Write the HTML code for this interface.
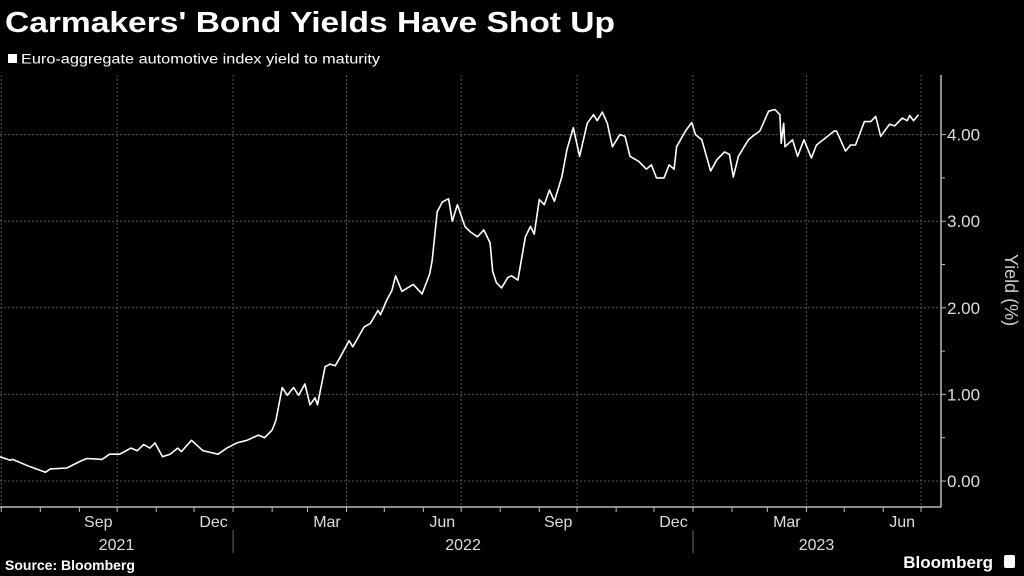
<!DOCTYPE html>
<html><head><meta charset="utf-8"><style>
html,body{margin:0;padding:0;background:#000;}
svg{display:block;font-family:"Liberation Sans",sans-serif;}
</style></head><body>
<svg id="chart" width="1024" height="576" viewBox="0 0 1024 576">
<rect width="1024" height="576" fill="#000"/>
<text x="5" y="32" fill="#fff" font-size="29" font-weight="bold" textLength="610" lengthAdjust="spacingAndGlyphs">Carmakers' Bond Yields Have Shot Up</text>
<rect x="8" y="54" width="9" height="9" fill="#fff"/>
<text x="21" y="63.5" fill="#fff" font-size="13.5" textLength="359" lengthAdjust="spacingAndGlyphs">Euro-aggregate automotive index yield to maturity</text>
<g id="grid"></g>
<g id="axes"></g>
<path id="line" fill="none" stroke="#fff" stroke-width="1.6" stroke-linejoin="round"/>
<text transform="translate(1005,290) rotate(90)" text-anchor="middle" fill="#ccc" font-size="18">Yield (%)</text>
<text x="5" y="570" fill="#fff" font-size="14" font-weight="bold">Source: Bloomberg</text>
<text x="993" y="568" text-anchor="end" fill="#fff" font-size="17" font-weight="bold">Bloomberg</text>
<rect x="1004" y="555" width="11" height="13" rx="2" fill="#fff"/>
</svg>
<script>
const startDate = "2021-06-30";
const days = [0,8,10,23,36,40,53,64,69,81,87,95,104,109,114,119,123,129,135,141,144,152,161,167,173,180,188,196,205,210,216,219,224,228,233,237,242,246,250,252,258,262,266,270,277,280,289,294,300,302,307,311,314,319,328,335,341,343,347,351,356,359,363,369,373,379,384,389,391,394,398,403,406,411,417,421,424,428,432,436,440,446,450,455,460,466,471,474,478,482,486,492,496,500,507,513,517,521,527,531,535,537,544,549,552,557,564,569,575,579,582,586,594,599,603,610,615,619,620,622,623,629,633,638,644,648,655,662,664,671,675,679,686,691,695,699,706,710,716,720,722,725,729];
const yields = [0.28,0.24,0.25,0.17,0.10,0.14,0.15,0.23,0.26,0.25,0.31,0.31,0.38,0.35,0.42,0.38,0.44,0.28,0.31,0.38,0.34,0.47,0.35,0.33,0.31,0.38,0.44,0.47,0.53,0.50,0.59,0.70,1.08,0.99,1.08,0.99,1.12,0.88,0.96,0.88,1.32,1.35,1.33,1.43,1.62,1.55,1.78,1.82,1.97,1.92,2.09,2.20,2.37,2.19,2.27,2.16,2.39,2.55,3.11,3.22,3.26,3.00,3.19,2.94,2.88,2.82,2.90,2.75,2.42,2.29,2.23,2.35,2.37,2.32,2.82,2.94,2.85,3.25,3.19,3.36,3.23,3.52,3.83,4.08,3.75,4.13,4.23,4.16,4.26,4.13,3.86,4.00,3.98,3.75,3.69,3.60,3.65,3.50,3.50,3.65,3.60,3.86,4.04,4.14,4.00,3.94,3.58,3.71,3.80,3.77,3.51,3.75,3.94,4.00,4.04,4.27,4.29,4.23,3.90,4.13,3.86,3.94,3.75,3.94,3.73,3.88,3.96,4.04,4.04,3.81,3.88,3.88,4.15,4.15,4.21,3.98,4.12,4.10,4.19,4.16,4.22,4.16,4.23];
const yTicks = [0,1,2,3,4];
const yTickLabels = ["0.00","1.00","2.00","3.00","4.00"];
const monthLabels = ["Jan","Feb","Mar","Apr","May","Jun","Jul","Aug","Sep","Oct","Nov","Dec"];

const NS="http://www.w3.org/2000/svg";
const PX_PER_DAY=1.26, Y0=481, PX_PER_UNIT=86.6, AXIS_X=941, AXIS_Y=507;
const t0=Date.parse(startDate+"T00:00:00Z");
const xDay=d=>d*PX_PER_DAY;
const xDate=(y,m,d)=>xDay((Date.UTC(y,m,d)-t0)/864e5);
const yv=v=>Y0-v*PX_PER_UNIT;
function mk(tag,attrs,parent){const e=document.createElementNS(NS,tag);for(const k in attrs)e.setAttribute(k,attrs[k]);parent.appendChild(e);return e;}
const grid=document.getElementById('grid'), axes=document.getElementById('axes');

yTicks.forEach((v,i)=>{
  const g=mk('line',{x1:0,x2:AXIS_X,y1:yv(v),y2:yv(v),stroke:'#555','stroke-width':1,'stroke-dasharray':'2,2'},grid);
  
  
  const tk=mk('line',{x1:AXIS_X,x2:AXIS_X+5,y1:yv(v),y2:yv(v),stroke:'#bbb'},axes);
  
  
  const t=mk('text',{x:AXIS_X+6,y:yv(v)+6,fill:'#ddd','font-size':17},axes);
  t.textContent=yTickLabels[i];
  
  
  if(v<4){const mt=mk('line',{x1:AXIS_X,x2:AXIS_X+4,y1:yv(v+0.5),y2:yv(v+0.5),stroke:'#bbb'},axes);
  
  }
});
const ya=mk('line',{x1:AXIS_X,x2:AXIS_X,y1:75,y2:AXIS_Y,stroke:'#bbb','stroke-width':1.5},axes);


const xa=mk('line',{x1:0,x2:AXIS_X,y1:AXIS_Y,y2:AXIS_Y,stroke:'#bbb','stroke-width':1.5},axes);



for(let y=2021;y<=2023;y++)for(let m=0;m<12;m++){
  const x=xDate(y,m,1); if(x<0||x>AXIS_X)continue;
  const tk=mk('line',{x1:x,x2:x,y1:AXIS_Y,y2:AXIS_Y+5,stroke:'#bbb'},axes);
  
  
  if(m%3===0){
    const g=mk('line',{x1:x,x2:x,y1:75,y2:AXIS_Y,stroke:'#555','stroke-dasharray':'2,2'},grid);
    
    
    if(m===0){const s=mk('line',{x1:x,x2:x,y1:530,y2:553,stroke:'#666'},axes);
      
      }
  }
  if(m%3===2){
    const xm=(x+xDate(y,m+1,1))/2;
    const t=mk('text',{x:xm,y:527,fill:'#ddd','font-size':16,'text-anchor':'middle'},axes);
    t.textContent=monthLabels[m];
    
    
  }
}
[[2021,0,xDate(2022,0,1)],[2022,xDate(2022,0,1),xDate(2023,0,1)],[2023,xDate(2023,0,1),940]].forEach(([yr,a,b])=>{
  const t=mk('text',{x:(a+b)/2,y:550,fill:'#ddd','font-size':16,'text-anchor':'middle'},axes);
  t.textContent=String(yr);
  
  
});
document.getElementById('line').setAttribute('d',days.map((d,i)=>(i?'L':'M')+xDay(d).toFixed(1)+','+yv(yields[i]).toFixed(1)).join(''));
</script>
</body></html>
